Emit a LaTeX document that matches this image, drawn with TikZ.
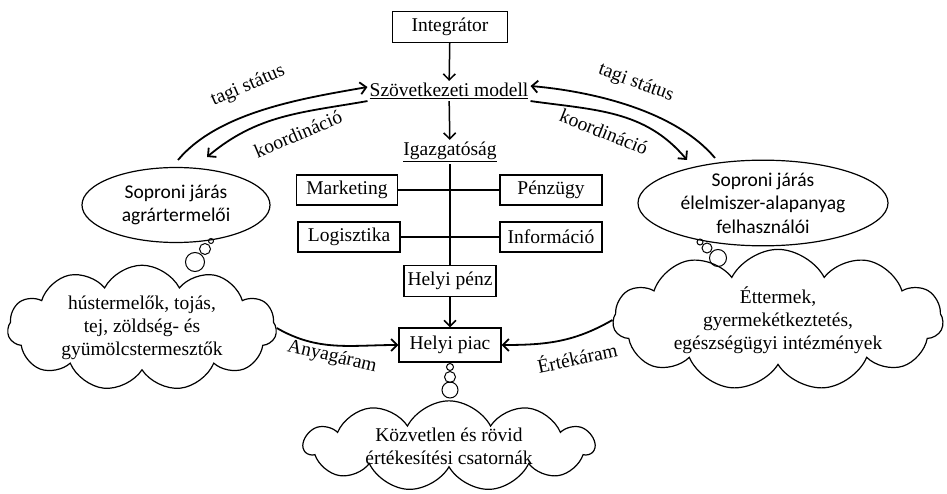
\documentclass[tikz,border=0pt]{standalone}
\usepackage{fontspec}
\setmainfont{Liberation Serif}
\newfontfamily\calibri{Carlito}
\usetikzlibrary{shapes.geometric,shapes.symbols,arrows.meta}
\newcommand\diagfont{\fontsize{19.5}{23}\selectfont}
\newcommand\sansdiag{\calibri\fontsize{19.5}{23.5}\selectfont}

\begin{document}
\begin{tikzpicture}[x=1pt, y=1pt,
  box/.style={draw, line width=1.3pt, minimum height=31pt, inner sep=3pt, font=\diagfont},
  plain/.style={inner sep=2pt, font=\diagfont},
  bubble/.style={ellipse, draw, line width=1.2pt, inner sep=0pt, align=center, font=\sansdiag},
  puff/.style={cloud, cloud puffs=11, cloud puff arc=125, cloud ignores aspect, draw, line width=1.2pt, inner sep=0pt, align=center, font=\diagfont},
  dot/.style={circle, draw, line width=1pt, inner sep=0pt},
  arc/.style={line width=1.8pt, -{Straight Barb[length=6pt,width=12pt]}},
  link/.style={line width=1.3pt}]
\useasboundingbox (0,0) rectangle (947,493);

\node[box, minimum width=115pt] at (450, 466) (integ) {Integrátor};
\node[plain] at (449, 402) (szov) {\underline{Szövetkezeti modell}};
\node[plain] at (450, 341) (igaz) {\underline{Igazgatóság}};
\node[box, minimum width=101pt, minimum height=30pt] at (347, 303) (mark) {Marketing};
\node[box, minimum width=102pt, minimum height=30pt] at (551, 303) (penz) {Pénzügy};
\node[box, minimum width=102pt, minimum height=30pt] at (349, 256) (logi) {Logisztika};
\node[box, minimum width=102pt, minimum height=30pt] at (551, 256) (info) {Információ};
\node[box, minimum width=92pt] at (450, 212) (hpenz) {Helyi pénz};
\node[box, minimum width=102pt, minimum height=34pt] at (450, 148) (piac) {Helyi piac};

\node[bubble, minimum width=188pt, minimum height=75pt] at (176, 288) (agrar) {Soproni járás\\agrártermelői};
\node[bubble, minimum width=250pt, minimum height=79pt] at (763, 290) (elelm) {Soproni járás\\élelmiszer-alapanyag\\felhasználói};
\node[puff, minimum width=269pt, minimum height=117pt] at (142, 165) (lcloud) {hústermelők, tojás,\\tej, zöldség- és\\gyümölcstermesztők};
\node[puff, minimum width=330pt, minimum height=115pt] at (778, 173) (rcloud) {Éttermek,\\gyermekétkeztetés,\\egészségügyi intézmények};
\node[puff, minimum width=290pt, minimum height=88pt] at (449, 47) (bcloud) {Közvetlen és rövid\\értékesítési csatornák};

\node[dot, minimum size=5pt] at (211, 252) (la) {};
\node[dot, minimum size=11pt] at (205, 244) (lb) {};
\node[dot, minimum size=19pt] at (195, 231) (lc) {};
\node[dot, minimum size=6pt] at (700, 251) (ra) {};
\node[dot, minimum size=10pt] at (707, 245) (rb) {};
\node[dot, minimum size=17pt] at (718, 235) (rc) {};
\node[dot, minimum size=7pt] at (450, 126) (ba) {};
\node[dot, minimum size=11pt] at (450, 116) (bb) {};
\node[dot, minimum size=16pt] at (450, 103) (bc) {};

\coordinate (tagLfoot) at (178, 333);
\coordinate (koordLtip) at (207, 336);
\coordinate (tagRfoot) at (715, 335);
\coordinate (koordRtip) at (687, 333);

\draw[arc, line width=1.5pt] (integ) -- (szov);
\draw[arc, line width=1.5pt] (szov) -- (igaz);
\draw[link] (igaz) -- (hpenz);
\draw[link] (mark) -- (penz);
\draw[link] (logi) -- (info);
\draw[arc, line width=1.5pt] (hpenz) -- (piac);

\draw[arc] (tagLfoot) to[out=50, in=190, looseness=0.8] ([yshift=4pt]szov.west);
\draw[arc] (szov.south west) to[out=190, in=40] (koordLtip);
\draw[arc] (tagRfoot) to[out=130, in=-5, looseness=0.8] ([yshift=5pt]szov.east);
\draw[arc] (szov.south east) to[out=-8, in=130] (koordRtip);
\draw[arc] (lcloud.east) to[out=-30, in=180] (piac.west);
\draw[arc] (rcloud.west) to[out=210, in=0] (piac.east);

\node[plain, rotate=23.5] at (248, 407) (tagiL) {tagi státus};
\node[plain, rotate=23] at (298, 359) (koordL) {koordináció};
\node[plain, rotate=-20] at (636, 410) (tagiR) {tagi státus};
\node[plain, rotate=-22] at (604, 361) (koordR) {koordináció};
\node[plain, rotate=-13] at (332, 136) (anyag) {Anyagáram};
\node[plain, rotate=12] at (577, 136) (ertek) {Értékáram};
\end{tikzpicture}
\end{document}
